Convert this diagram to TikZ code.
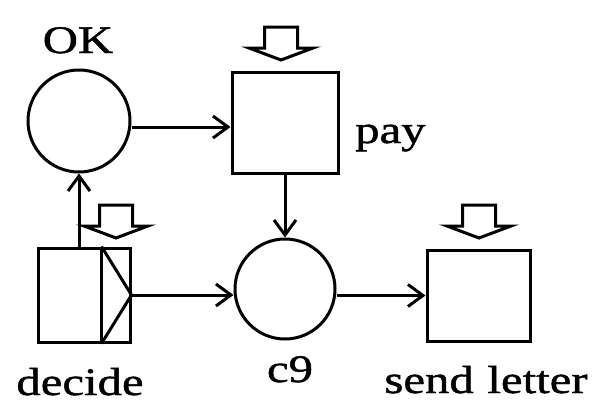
\documentclass[tikz,border=0pt]{standalone}
\usepackage{fontspec}
\setmainfont{Liberation Serif}[FakeStretch=1.25,FakeBold=1.2]
\usetikzlibrary{arrows.meta,calc}
\tikzset{
  lw/.style={line width=3pt},
  place/.style={circle,draw,lw,minimum size=100pt,inner sep=0pt},
  trans/.style={rectangle,draw,lw,inner sep=0pt},
  arr/.style={lw,-{Straight Barb[length=15pt,width=22pt,line width=3pt]}},
  lbl/.style={font=\fontsize{39}{44}\selectfont,inner sep=0pt},
  blockarr/.pic={\draw[lw,line join=miter,fill=white] (-16.5,-33) -- (16.5,-33) -- (16.5,-12) -- (32,-12) -- (0,0) -- (-32,-12) -- (-16.5,-12) -- cycle;}
}
\begin{document}
\begin{tikzpicture}[x=1pt,y=-1pt]
\useasboundingbox (0,0) rectangle (594,405);
% nodes
\node[place,minimum size=102pt] (ok) at (79,121) {};
\node[trans,minimum width=106pt,minimum height=101pt] (pay) at (285,122.5) {};
\node[place,minimum size=100pt] (c9) at (285,289) {};
\node[trans,minimum width=92pt,minimum height=94pt] (decide) at (84,295) {};
\node[trans,minimum width=103pt,minimum height=91pt] (send) at (478.5,295.5) {};
% decide inner triangle
\coordinate (dtl) at ($(decide.north east)+(-30,0)$);
\coordinate (dbl) at ($(decide.south east)+(-30,0)$);
\draw[lw,line join=miter] (dtl) -- (dbl);
\draw[lw,line join=miter] (dtl) -- (decide.east) -- (dbl);
% labels
\node[lbl,anchor=base] (okl) at (78,53) {OK};
\node[lbl,anchor=base west] (payl) at (355,143) {pay};
\node[lbl,anchor=base] (decidel) at (80,395) {decide};
\node[lbl,anchor=base] (c9l) at (290,382) {c9};
\node[lbl,anchor=base] (sendl) at (486,393) {send\hspace{0.35em}letter};
% connectors
\coordinate (okout) at ($(ok.east)+(0,6)$);
\draw[arr] (okout) -- (okout -| pay.west);
\draw[arr] (decide.north -| ok.south) -- (ok.south);
\draw[arr] (pay.south -| c9.north) -- (c9.north);
\draw[arr] (decide.east) -- (decide.east -| c9.west);
\draw[arr] (c9.east |- send.west) -- (send.west);
% block arrows (triggers)
\pic at (281,60) {blockarr};
\pic at (116,238) {blockarr};
\pic at (479,238) {blockarr};
\end{tikzpicture}
\end{document}
